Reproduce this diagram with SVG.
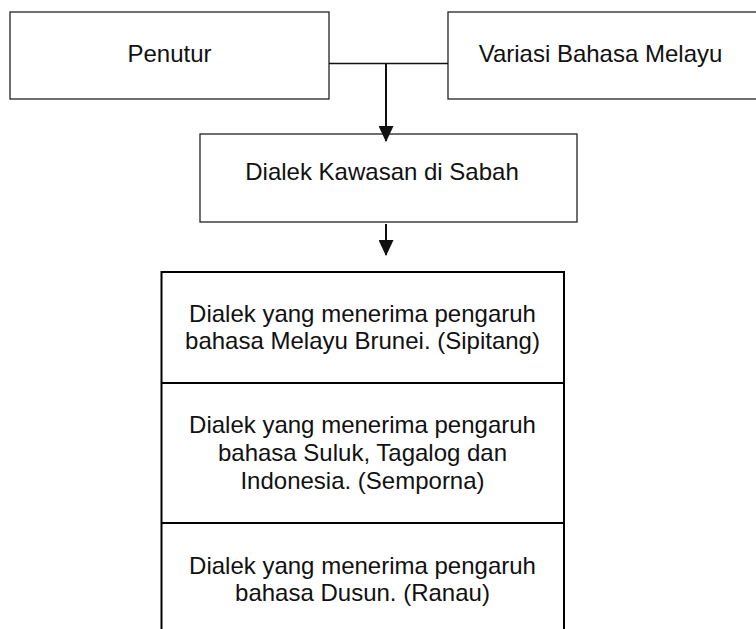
<svg xmlns="http://www.w3.org/2000/svg" width="756" height="629" viewBox="0 0 756 629">
  <style>
    .box { fill: none; stroke: #222; stroke-width: 1.3; }
    .tbl { fill: none; stroke: #000; stroke-width: 2; }
    .lbl { font-family: "Liberation Sans", Arial, sans-serif; font-size: 24px; fill: #111; text-anchor: middle; }
    .conn { fill: none; stroke: #111; }
  </style>
  <defs>
    <marker id="arrow" viewBox="0 0 16 15" refX="15" refY="7.5" markerWidth="16" markerHeight="15" markerUnits="userSpaceOnUse" orient="auto">
      <path d="M0,0 L16,7.5 L0,15 Z" fill="#111"/>
    </marker>
  </defs>
  <rect width="756" height="629" fill="#ffffff"/>

  <g id="node-penutur">
    <rect class="box" x="10" y="12" width="319" height="87"/>
    <text class="lbl" x="169.5" y="62">Penutur</text>
  </g>

  <g id="node-variasi">
    <rect class="box" x="448" y="12" width="330" height="87"/>
    <text class="lbl" x="600.5" y="62">Variasi Bahasa Melayu</text>
  </g>

  <g id="node-dialek-kawasan">
    <rect class="box" x="200" y="134" width="377" height="88"/>
    <text class="lbl" x="382" y="180">Dialek Kawasan di Sabah</text>
  </g>

  <g id="node-dialek-list">
    <rect class="tbl" x="161.5" y="272" width="402.5" height="400"/>
    <line class="tbl" x1="161.5" y1="383" x2="564" y2="383"/>
    <line class="tbl" x1="161.5" y1="523" x2="564" y2="523"/>
    <text class="lbl" x="362.5" y="321.5">Dialek yang menerima pengaruh</text>
    <text class="lbl" x="362.5" y="349">bahasa Melayu Brunei. (Sipitang)</text>
    <text class="lbl" x="362.5" y="433">Dialek yang menerima pengaruh</text>
    <text class="lbl" x="362.5" y="461">bahasa Suluk, Tagalog dan</text>
    <text class="lbl" x="362.5" y="488.5">Indonesia. (Semporna)</text>
    <text class="lbl" x="362.5" y="573.5">Dialek yang menerima pengaruh</text>
    <text class="lbl" x="362.5" y="601">bahasa Dusun. (Ranau)</text>
  </g>

  <g id="connectors">
    <line class="conn" x1="329" y1="63.5" x2="448" y2="63.5" stroke-width="1.3"/>
    <line class="conn" x1="386" y1="63.5" x2="386" y2="141" stroke-width="2" marker-end="url(#arrow)"/>
    <line class="conn" x1="386" y1="224" x2="386" y2="255" stroke-width="2" marker-end="url(#arrow)"/>
  </g>
</svg>
